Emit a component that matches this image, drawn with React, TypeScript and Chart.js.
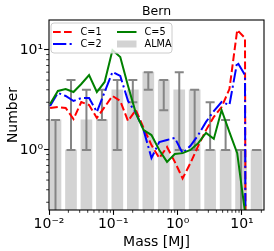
import React, { useEffect, useRef } from 'react';
import { Chart, registerables } from 'chart.js';

Chart.register(...registerables);

const FONT = "'DejaVu Sans', sans-serif";

// Model curves (mass grid in Jupiter masses, number per bin)
const massGrid = [0.0104, 0.01374, 0.01816, 0.02404, 0.03177, 0.04198, 0.05546, 0.07328, 0.09705, 0.1282, 0.1694, 0.2239, 0.2958, 0.3917, 0.5176, 0.6839, 0.9036, 1.194, 1.581, 2.089, 2.761, 3.648, 4.82, 6.383, 8.433, 11.14, 14.72];
const countC1 = [2.63, 2.69, 2.63, 2.04, 3.02, 2.82, 2.09, 2.69, 3.47, 3.09, 1.95, 2.51, 1.66, 1.12, 0.83, 1.07, 0.76, 0.52, 0.74, 1.1, 1.58, 2.14, 2.69, 4.07, 15.85, 13.18, 0];
const countC2 = [2.75, 3.72, 3.47, 3.09, 3.31, 3.31, 2.4, 3.8, 6.03, 5.5, 3.09, 2.34, 1.58, 0.83, 1.2, 1.26, 1.32, 0.93, 1.1, 1.41, 1.91, 2.45, 3.02, 2.82, 7.59, 5.62, 0];
const countC5 = [2.88, 3.89, 4.07, 3.8, 4.57, 5.62, 3.8, 4.79, 10.0, 8.51, 4.37, 2.34, 1.58, 1.41, 1.0, 0.76, 0.91, 0.93, 1.0, 1.17, 1.48, 1.29, 2.51, 1.51, 0.93, 0.24, 0];

// ALMA histogram
const almaMass = [0.01262, 0.02198, 0.03819, 0.0665, 0.1154, 0.201, 0.3499, 0.6081, 1.059, 1.838, 3.198, 5.568, 9.68, 16.87];
const almaCount = [2, 1, 2, 2, 4, 4, 6, 5, 4, 4, 1, 1, 1, 1];
const almaErrLow = [0, 1, 1, 2, 1, 3, 4, 2.5, 1, 1, 1, 1, 0, 1];
const almaErrHigh = [2, 5, 4, 4, 5, 5, 6, 5, 6, 4, 3, 2, 1, 1];

// Axes
const xMin = 0.01;
const xMax = 22;
const yMin = 0.251;
const yMax = 19.95;
const xTickValues = [0.01, 0.1, 1, 10];
const xTickLabels = ['10\u207B\u00B2', '10\u207B\u00B9', '10\u2070', '10\u00B9'];
const yTickValues = [1, 10];
const yTickLabels = ['10\u2070', '10\u00B9'];

const titleText = 'Bern';
const xLabelText = 'Mass [MJ]';
const yLabelText = 'Number';

const seriesLabels = ['C=1', 'C=2', 'C=5', 'ALMA'];
const seriesColors = ['#ff0000', '#0000ff', '#008000', '#d3d3d3'];
const dashC1 = [7.7, 3.3];
const dashC2 = [13.3, 3.3, 2.1, 3.3];

function tickLabel(v: number, values: number[], labels: string[]) {
  const i = values.findIndex((t) => Math.abs(t - v) / t < 1e-6);
  return i >= 0 ? labels[i] : '';
}

const decor = {
  id: 'decor',
  afterDatasetDraw(chart: any, args: any) {
    if (args.meta.type !== 'bar') return;
    const ctx = chart.ctx;
    const ca = chart.chartArea;
    const xs = chart.scales.x;
    const ys = chart.scales.y;
    ctx.save();
    ctx.beginPath();
    ctx.rect(ca.left, ca.top, ca.right - ca.left, ca.bottom - ca.top);
    ctx.clip();
    ctx.strokeStyle = '#858585';
    ctx.lineWidth = 2;
    const cap = 4.5;
    almaMass.forEach((m, i) => {
      const px = xs.getPixelForValue(m);
      const lo = almaErrLow[i] > 0 ? ys.getPixelForValue(almaErrLow[i]) : ca.bottom + 20;
      const hi = ys.getPixelForValue(almaErrHigh[i]);
      ctx.beginPath();
      ctx.moveTo(px, lo);
      ctx.lineTo(px, hi);
      ctx.moveTo(px - cap, hi);
      ctx.lineTo(px + cap, hi);
      if (almaErrLow[i] > 0) {
        ctx.moveTo(px - cap, lo);
        ctx.lineTo(px + cap, lo);
      }
      ctx.stroke();
    });
    ctx.restore();
  },
  afterDraw(chart: any) {
    const ctx = chart.ctx;
    const ca = chart.chartArea;
    const xs = chart.scales.x;
    const ys = chart.scales.y;
    ctx.save();
    // frame
    ctx.strokeStyle = '#000';
    ctx.lineWidth = 1.1;
    ctx.strokeRect(ca.left, ca.top, ca.right - ca.left, ca.bottom - ca.top);
    // minor ticks
    ctx.lineWidth = 0.8;
    ctx.beginPath();
    for (let e = -3; e <= 2; e++) {
      for (let m = 2; m <= 9; m++) {
        const v = m * Math.pow(10, e);
        if (v > xMin && v < xMax) {
          const px = xs.getPixelForValue(v);
          ctx.moveTo(px, ca.bottom);
          ctx.lineTo(px, ca.bottom + 2.8);
        }
        if (v > yMin && v < yMax) {
          const py = ys.getPixelForValue(v);
          ctx.moveTo(ca.left, py);
          ctx.lineTo(ca.left - 2.8, py);
        }
      }
    }
    ctx.stroke();
    // title and axis labels
    ctx.fillStyle = '#000';
    ctx.textAlign = 'center';
    ctx.textBaseline = 'middle';
    ctx.font = `12.5px ${FONT}`;
    ctx.fillText(titleText, (ca.left + ca.right) / 2, 12);
    ctx.font = `14px ${FONT}`;
    ctx.fillText(xLabelText, (ca.left + ca.right) / 2, 242);
    ctx.save();
    ctx.translate(13, (ca.top + ca.bottom) / 2);
    ctx.rotate(-Math.PI / 2);
    ctx.fillText(yLabelText, 0, 0);
    ctx.restore();
    // legend
    const bx = ca.left + 2;
    const by = ca.top + 3;
    const bw = 121;
    const bh = 30;
    ctx.beginPath();
    if (ctx.roundRect) ctx.roundRect(bx, by, bw, bh, 3);
    else ctx.rect(bx, by, bw, bh);
    ctx.fillStyle = 'rgba(255,255,255,0.8)';
    ctx.fill();
    ctx.strokeStyle = '#cccccc';
    ctx.lineWidth = 1;
    ctx.stroke();
    const items = [
      { i: 0, col: 0, row: 0, dash: dashC1 },
      { i: 1, col: 0, row: 1, dash: dashC2 },
      { i: 2, col: 1, row: 0, dash: [] as number[] },
      { i: 3, col: 1, row: 1, dash: null as any },
    ];
    ctx.font = `9.7px ${FONT}`;
    ctx.textAlign = 'left';
    items.forEach((it) => {
      const hx = bx + 2 + it.col * 64;
      const hy = by + 9 + it.row * 12;
      if (it.dash) {
        ctx.strokeStyle = seriesColors[it.i];
        ctx.lineWidth = 2;
        ctx.setLineDash(it.dash);
        ctx.beginPath();
        ctx.moveTo(hx, hy);
        ctx.lineTo(hx + 19.5, hy);
        ctx.stroke();
        ctx.setLineDash([]);
      } else {
        ctx.fillStyle = seriesColors[it.i];
        ctx.fillRect(hx, hy - 3.5, 19.5, 7);
      }
      ctx.fillStyle = '#000';
      ctx.fillText(seriesLabels[it.i], hx + 27.5, hy);
    });
    ctx.restore();
  },
};

export default function App() {
  const ref = useRef<HTMLCanvasElement>(null);
  useEffect(() => {
    const canvas = ref.current;
    if (!canvas) return;
    const lineData = (vals: number[]) => massGrid.map((m, i) => ({ x: m, y: vals[i] > 0 ? vals[i] : 1e-30 }));
    const tickFont = { family: FONT, size: 14 };
    const chart = new Chart(canvas, {
      type: 'bar',
      data: {
        datasets: [
          { type: 'line', label: seriesLabels[2], data: lineData(countC5), borderColor: seriesColors[2], borderWidth: 2, pointRadius: 0, tension: 0, order: 1 } as any,
          { type: 'line', label: seriesLabels[1], data: lineData(countC2), borderColor: seriesColors[1], borderWidth: 2, borderDash: dashC2, pointRadius: 0, tension: 0, order: 2 } as any,
          { type: 'line', label: seriesLabels[0], data: lineData(countC1), borderColor: seriesColors[0], borderWidth: 2, borderDash: dashC1, pointRadius: 0, tension: 0, order: 3 } as any,
          { type: 'bar', label: seriesLabels[3], data: almaMass.map((m, i) => ({ x: m, y: almaCount[i] })), backgroundColor: seriesColors[3], barThickness: 11, order: 4 } as any,
        ],
      },
      options: {
        responsive: false,
        animation: false,
        layout: { padding: { left: 0, right: 10, top: 20, bottom: 0 } },
        plugins: { legend: { display: false }, tooltip: { enabled: false }, title: { display: false } },
        scales: {
          x: {
            type: 'logarithmic',
            min: xMin,
            max: xMax,
            offset: false,
            afterBuildTicks: (s: any) => { s.ticks = xTickValues.map((v) => ({ value: v })); },
            afterFit: (s: any) => { s.height = 41; },
            grid: { display: true, drawOnChartArea: false, drawTicks: true, tickLength: 4.9, tickWidth: 1.1, tickColor: '#000', offset: false },
            border: { display: false },
            ticks: { callback: (v: any) => tickLabel(Number(v), xTickValues, xTickLabels), font: tickFont, color: '#000', padding: 1, maxRotation: 0, autoSkip: false },
          },
          y: {
            type: 'logarithmic',
            min: yMin,
            max: yMax,
            afterBuildTicks: (s: any) => { s.ticks = yTickValues.map((v) => ({ value: v })); },
            afterFit: (s: any) => { s.width = 49; },
            grid: { display: true, drawOnChartArea: false, drawTicks: true, tickLength: 4.9, tickWidth: 1.1, tickColor: '#000' },
            border: { display: false },
            ticks: { callback: (v: any) => tickLabel(Number(v), yTickValues, yTickLabels), font: tickFont, color: '#000', padding: 1, autoSkip: false },
          },
        } as any,
      },
      plugins: [decor as any],
    });
    return () => chart.destroy();
  }, []);
  return (
    <div style={{ position: 'fixed', left: 0, top: 0, width: 274, height: 251, background: '#fff' }}>
      <canvas ref={ref} width={274} height={251} style={{ display: 'block' }} />
    </div>
  );
}
